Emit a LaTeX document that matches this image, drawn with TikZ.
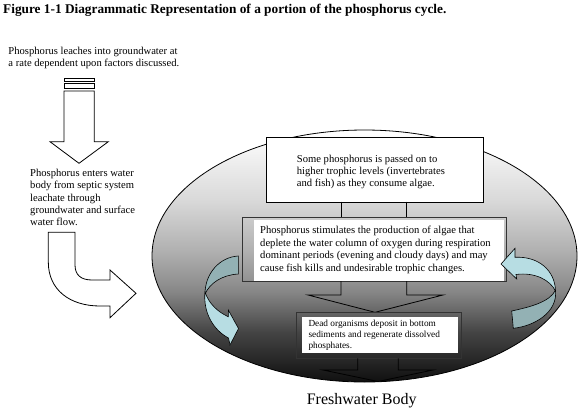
\documentclass[tikz,border=0pt]{standalone}
\usepackage{fontspec}
\setmainfont{Liberation Serif}
\definecolor{tealdark}{HTML}{93B1B4}
\definecolor{teallight}{HTML}{B7DDE3}
\pgfdeclareverticalshading{ellshade}{100bp}{color(0bp)=(black!94); color(25bp)=(black!94); color(35bp)=(black!73); color(43bp)=(black!47); color(51bp)=(black!31); color(61bp)=(black!15); color(75bp)=(white); color(100bp)=(white)}
\tikzset{
  txt/.style={inner sep=0pt, anchor=north west, align=left, font=\fontsize{10.6}{12.2}\selectfont},
  wbox/.style={draw=black, fill=white, line width=0.8pt},
  obox/.style={draw=black!80, line width=0.8pt},
  blk/.style={draw=black, fill=white, line width=0.8pt},
  conn/.style={draw=black, line width=0.8pt},
  tdark/.style={draw=black, fill=tealdark, line width=0.6pt},
  tlight/.style={draw=black, fill=teallight, line width=0.6pt}
}
\begin{document}
\begin{tikzpicture}[x=1pt,y=-1pt]
\useasboundingbox (0,0) rectangle (588,415);
% title
\node[inner sep=0pt, anchor=base west, font=\fontsize{13.3}{15}\selectfont\bfseries] (title) at (3,13.3) {Figure 1-1 Diagrammatic Representation of a portion of the phosphorus cycle.};
% top-left text
\node[txt, font=\fontsize{10.6}{11.6}\selectfont] (leach) at (8.3,47) {Phosphorus leaches into groundwater at\\a rate dependent upon factors discussed.};
% down arrow
\draw[blk] (64,78.3) rectangle (94.3,81);
\draw[blk] (64,83.3) rectangle (94.3,88.3);
\draw[blk] (64,91) -- (64,141.7) -- (50,141.7) -- (79,163.3) -- (108.3,141.7) -- (94.3,141.7) -- (94.3,91) -- cycle;
% left text
\node[txt] (enter) at (30,169.2) {Phosphorus enters water\\body from septic system\\leachate through\\groundwater and surface\\water flow.};
% bent arrow
\draw[blk] (48.3,232.3) -- (48.3,262) .. controls (48.3,290) and (70,306) .. (100,306) -- (110,306) -- (110,317.7) -- (136,293.3) -- (110,270) -- (110,280) -- (92,280) .. controls (81,280) and (75,275) .. (75,265) -- (75,232.3) -- cycle;
% ellipse
\shade[shading=ellshade, draw=black, line width=0.8pt] (364.5,256) ellipse [x radius=212.5, y radius=126];
% top box
\node[wbox, anchor=north west, minimum width=216.7pt, minimum height=65pt, inner sep=0pt] (topbox) at (266,136.7) {};
\node[txt, font=\fontsize{10.6}{11.7}\selectfont] (toptxt) at (296.7,155.2) {Some phosphorus is passed on to\\higher trophic levels (invertebrates\\and fish) as they consume algae.};
% connector top -> middle
\draw[conn] (341,201.7) -- (341,216.7);
\draw[conn] (406.7,201.7) -- (406.7,216.7);
% middle box
\node[obox, anchor=north west, minimum width=263.4pt, minimum height=64.3pt, inner sep=0pt] (midbox) at (242.3,216.7) {};
\fill[white] (254,220) rectangle (504,281);
\node[txt, font=\fontsize{10.6}{12.5}\selectfont] (midtxt) at (260,226.2) {Phosphorus stimulates the production of algae that\\deplete the water column of oxygen during respiration\\dominant periods (evening and cloudy days) and may\\cause fish kills and undesirable trophic changes.};
% connector middle -> bottom
\draw[conn] (341,281) -- (341,295) -- (308,295) -- (375,312.3) -- (443,295) -- (406.7,295) -- (406.7,281);
% bottom box
\node[obox, anchor=north west, minimum width=165pt, minimum height=46pt, inner sep=0pt] (botbox) at (295.7,312.3) {};
\fill[white] (302.3,316.7) rectangle (458.3,352.7);
\node[txt, font=\fontsize{9.3}{11.2}\selectfont] (bottxt) at (308.3,319.4) {Dead organisms deposit in bottom\\sediments and regenerate dissolved\\phosphates.};
% bottom arrow
\draw[conn] (357.7,358.3) -- (357.7,370) -- (323,370) -- (378,381.5) -- (433,370) -- (398.3,370) -- (398.3,358.3);
% left teal arrow
\draw[tdark] (238.3,256) .. controls (220,257) and (205,273) .. (205,294) .. controls (210,283) and (222,275) .. (238.3,274) -- cycle;
\draw[tlight] (205,292) .. controls (203,312) and (213,330) .. (228.5,338) -- (230,345) -- (238.5,328.5) -- (228.3,310) -- (228.3,316.7) .. controls (218,312) and (209,304) .. (205,292) -- cycle;
% right teal arrow
\draw[tdark] (555.5,290) .. controls (558,312) and (535,326) .. (513.3,328.3) -- (511.7,311) .. controls (530,307) and (550,302) .. (555.5,290) -- cycle;
\draw[tlight] (501,264) -- (515,248.3) -- (515,257.3) .. controls (538,256) and (555,270) .. (555.5,291) .. controls (550,280) and (535,272) .. (516,274.5) -- (516.7,279) -- cycle;
% caption
\node[inner sep=0pt, anchor=base, font=\fontsize{16}{19}\selectfont] (fresh) at (361.7,404.6) {Freshwater Body};
\end{tikzpicture}
\end{document}
